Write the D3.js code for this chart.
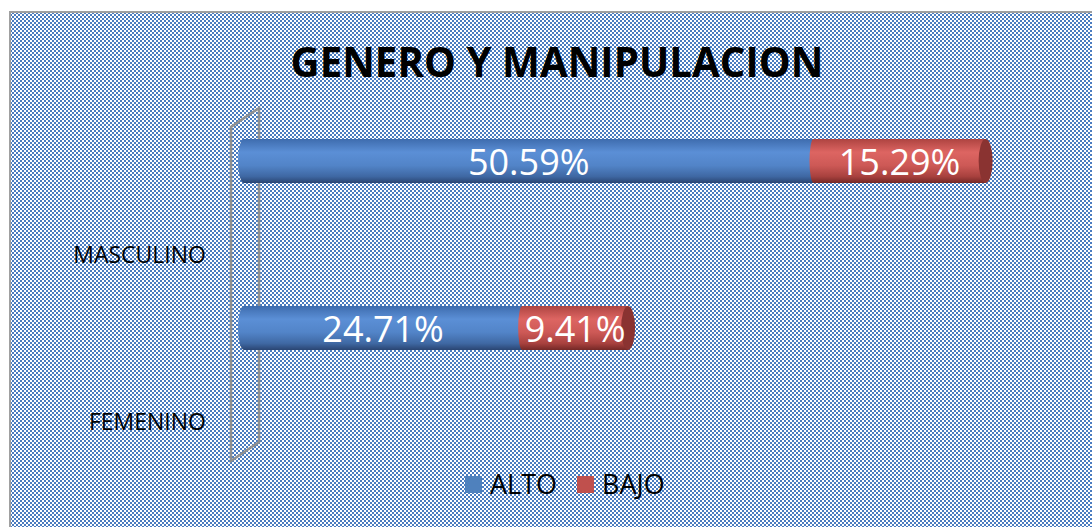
<!DOCTYPE html>
<html>
<head>
<meta charset="utf-8">
<script src="https://cdn.jsdelivr.net/npm/d3@7"></script>
<style>
  body { margin: 0; background: #fff; }
  text { font-family: 'Open Sans', sans-serif; }
</style>
</head>
<body>
<script>
const categories = ['MASCULINO', 'FEMENINO'];
const alto = [50.59, 24.71];
const bajo = [15.29, 9.41];
const seriesNames = ['ALTO', 'BAJO'];
const seriesColors = ['#4f81bd', '#c0504d'];

const width = 1092, height = 527;

const svg = d3.select('body')
  .append('svg')
  .attr('width', width)
  .attr('height', height);

const defs = svg.append('defs');

// checker pattern background
const pat = defs.append('pattern')
  .attr('id', 'checker')
  .attr('width', 4)
  .attr('height', 4)
  .attr('patternUnits', 'userSpaceOnUse');
pat.append('rect').attr('width', 4).attr('height', 4).attr('fill', '#fff');
pat.append('rect').attr('width', 2).attr('height', 2).attr('fill', '#4a7cc0');
pat.append('rect').attr('x', 2).attr('y', 2).attr('width', 2).attr('height', 2).attr('fill', '#4a7cc0');

function cylGrad(id, stops) {
  const g = defs.append('linearGradient')
    .attr('id', id)
    .attr('x1', 0).attr('y1', 0).attr('x2', 0).attr('y2', 1);
  stops.forEach(s => g.append('stop').attr('offset', s[0]).attr('stop-color', s[1]));
}
cylGrad('gBlue', [[0, '#3e6cae'], [0.3, '#5b8fd6'], [0.6, '#5284c8'], [0.85, '#3f68a3'], [1, '#2a4572']]);
cylGrad('gRed', [[0, '#ae4441'], [0.3, '#dd6562'], [0.6, '#cd5956'], [0.85, '#a8413e'], [1, '#742826']]);

svg.append('rect')
  .attr('x', 10)
  .attr('y', 12)
  .attr('width', 1090)
  .attr('height', 525)
  .attr('fill', 'url(#checker)')
  .attr('stroke', '#a0a0a0')
  .attr('stroke-width', 2);

svg.append('text')
  .text('GENERO Y MANIPULACION')
  .attr('x', 557)
  .attr('y', 77)
  .attr('text-anchor', 'middle')
  .attr('font-size', 42)
  .attr('font-weight', 'bold')
  .attr('textLength', 533)
  .attr('lengthAdjust', 'spacingAndGlyphs')
  .attr('fill', '#000');

// scales
const x = d3.scaleLinear().domain([0, 70]).range([244, 1032]);
const y = d3.scaleBand().domain(categories).range([127, 461]);
const depth = { dx: 28, dy: -19 };

// 3D back wall
const wTop = y.range()[0], wBot = y.range()[1], wx = 231;
svg.append('path')
  .attr('d', `M${wx},${wBot} L${wx},${wTop} L${wx + depth.dx},${wTop + depth.dy} L${wx + depth.dx},${wBot + depth.dy} Z`)
  .attr('fill', 'none')
  .attr('stroke', '#909090')
  .attr('stroke-width', 2.5);

// category labels
svg.selectAll('.cat')
  .data(categories)
  .enter()
  .append('text')
  .attr('class', 'cat')
  .text(d => d)
  .attr('x', 206)
  .attr('y', d => y(d) + 136)
  .attr('text-anchor', 'end')
  .attr('font-size', 23)
  .attr('fill', '#000');

// cylinders
const barH = 44, rx = 6;
categories.forEach((c, i) => {
  const cy = y(c) + 34;
  const x0 = x(0), x1 = x(alto[i]), x2 = x(alto[i] + bajo[i]);
  const g = svg.append('g');
  g.append('ellipse')
    .attr('cx', x0).attr('cy', cy).attr('rx', rx).attr('ry', barH / 2)
    .attr('fill', 'url(#gBlue)');
  g.append('rect')
    .attr('x', x0).attr('y', cy - barH / 2)
    .attr('width', x1 - x0).attr('height', barH)
    .attr('fill', 'url(#gBlue)');
  g.append('rect')
    .attr('x', x1).attr('y', cy - barH / 2)
    .attr('width', x2 - x1).attr('height', barH)
    .attr('fill', 'url(#gRed)');
  g.append('ellipse')
    .attr('cx', x1).attr('cy', cy).attr('rx', rx - 2).attr('ry', barH / 2)
    .attr('fill', 'url(#gRed)');
  g.append('ellipse')
    .attr('cx', x2).attr('cy', cy).attr('rx', rx + 1).attr('ry', barH / 2)
    .attr('fill', '#8a3331');

  g.append('text')
    .text(alto[i].toFixed(2) + '%')
    .attr('x', (x0 + x1) / 2)
    .attr('y', cy + 14)
    .attr('text-anchor', 'middle')
    .attr('font-size', 36)
    .attr('fill', '#fff');
  g.append('text')
    .text(bajo[i].toFixed(2) + '%')
    .attr('x', (x1 + x2) / 2)
    .attr('y', cy + 14)
    .attr('text-anchor', 'middle')
    .attr('font-size', 36)
    .attr('fill', '#fff');
});

// legend
const legend = svg.append('g').attr('transform', 'translate(465, 476)');
const lx = [0, 112];
seriesNames.forEach((s, i) => {
  legend.append('rect')
    .attr('x', lx[i]).attr('y', 0)
    .attr('width', 17).attr('height', 17)
    .attr('fill', seriesColors[i]);
  legend.append('text')
    .text(s)
    .attr('x', lx[i] + 25)
    .attr('y', 18)
    .attr('font-size', 27)
    .attr('fill', '#000');
});
</script>
</body>
</html>
